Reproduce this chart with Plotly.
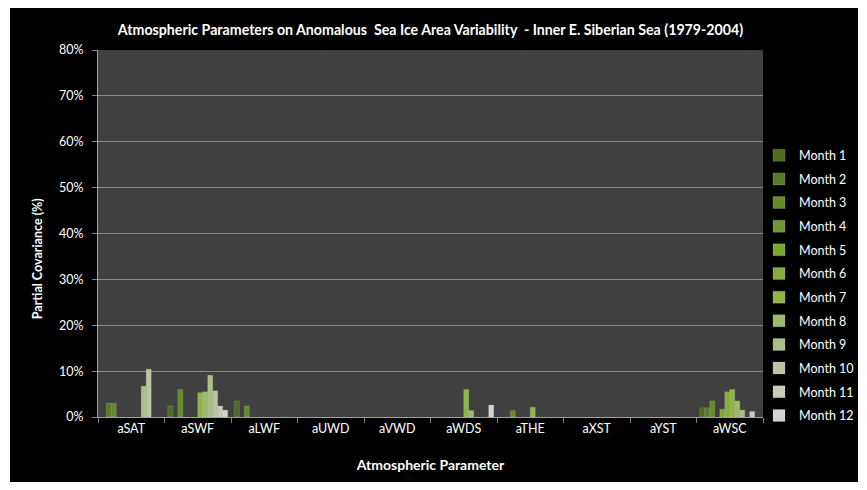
import plotly.graph_objects as go

# categories on the x axis
params = ["aSAT", "aSWF", "aLWF", "aUWD", "aVWD", "aWDS", "aTHE", "aXST", "aYST", "aWSC"]

# partial covariance (%) per month, one value per parameter
month_01 = [0, 2.4, 3.5, 0, 0, 0, 0, 0, 0, 2.0]
month_02 = [3.0, 0, 0, 0, 0, 0, 0, 0, 0, 2.0]
month_03 = [3.0, 6.0, 2.4, 0, 0, 0, 1.4, 0, 0, 3.5]
month_04 = [0, 0, 0, 0, 0, 0, 0, 0, 0, 0]
month_05 = [0, 0, 0, 0, 0, 0, 0, 0, 0, 1.7]
month_06 = [0, 0, 0, 0, 0, 0, 0, 0, 0, 5.5]
month_07 = [0, 5.3, 0, 0, 0, 6.0, 2.1, 0, 0, 6.0]
month_08 = [0, 5.5, 0, 0, 0, 1.4, 0, 0, 0, 3.5]
month_09 = [6.7, 9.1, 0, 0, 0, 0, 0, 0, 0, 1.5]
month_10 = [10.4, 5.7, 0, 0, 0, 0, 0, 0, 0, 0]
month_11 = [0, 2.4, 0, 0, 0, 0, 0, 0, 0, 1.2]
month_12 = [0, 1.5, 0, 0, 0, 2.6, 0, 0, 0, 0]

months = [month_01, month_02, month_03, month_04, month_05, month_06,
          month_07, month_08, month_09, month_10, month_11, month_12]
month_names = [f"Month {i}" for i in range(1, 13)]

colors = ["#4e6b1f", "#587a24", "#66892a", "#6f9830", "#79a534", "#84ad3c",
          "#8fb548", "#9cb86a", "#aabf85", "#b8c5a0", "#c5ccb8", "#d2d5cc"]

FONT = "Lato"

fig = go.Figure()
for name, vals, col in zip(month_names, months, colors):
    fig.add_trace(go.Bar(
        x=params,
        y=[v if v else None for v in vals],
        name=name,
        legendgroup=name,
        marker=dict(color=col, line=dict(color="rgba(255,255,255,0.25)", width=0.6)),
    ))

# black chart area inside a thin white frame
fig.add_shape(type="rect", xref="paper", yref="paper", layer="below",
              x0=-0.1323, x1=1.1429, y0=-0.1771, y1=1.1144,
              fillcolor="black", line=dict(width=0))
# dark grey plot area drawn on top of the black
fig.add_shape(type="rect", xref="paper", yref="paper", layer="below",
              x0=0, x1=1, y0=0, y1=1,
              fillcolor="#404040", line=dict(width=0))

# y axis title sits a little below the middle of the axis, as in the original
fig.add_annotation(
    text="<b>Partial Covariance (%)</b>", textangle=-90,
    xref="paper", yref="paper", x=-0.0917, y=0.43,
    xanchor="center", yanchor="middle", showarrow=False,
    font=dict(size=12.5, color="white", family=FONT),
)

# page body adds an 8px offset, so the figure is 8px smaller than the window
fig.update_layout(
    width=859, height=482,
    margin=dict(l=90, r=104, t=42, b=73, autoexpand=False),
    paper_bgcolor="white",
    plot_bgcolor="#404040",
    barmode="group",
    bargap=0.1,
    bargroupgap=0,
    font=dict(family=FONT, color="white", size=12),
    title=dict(
        text="<b>Atmospheric Parameters on Anomalous  Sea Ice Area Variability  - Inner E. Siberian Sea (1979-2004)</b>",
        x=0.5, xref="paper", xanchor="center", y=0.954, yanchor="middle",
        font=dict(size=14.2, color="white", family=FONT),
    ),
    legend=dict(
        x=0.994, xanchor="left", y=0.358, yanchor="middle",
        font=dict(size=12.5, color="white", family=FONT),
        tracegroupgap=4.4, itemwidth=30,
        bgcolor="rgba(0,0,0,0)",
    ),
    xaxis=dict(
        title=dict(text="<b>Atmospheric Parameter</b>", font=dict(size=14, color="white"), standoff=25),
        tickson="boundaries", ticks="outside", ticklen=5, tickcolor="#808080",
        showline=True, linecolor="#a0a0a0", linewidth=1,
        showgrid=False, tickfont=dict(size=12.5, color="white"),
    ),
    yaxis=dict(
        range=[0, 80], dtick=10, ticksuffix="%",
        ticks="outside", ticklen=5, tickcolor="#808080", ticklabelstandoff=6,
        showgrid=True, gridcolor="#8a8a8a", gridwidth=1,
        showline=True, linecolor="#a0a0a0", zeroline=False,
        tickfont=dict(size=12.5, color="white"),
    ),
)

fig.write_html("out.html")
